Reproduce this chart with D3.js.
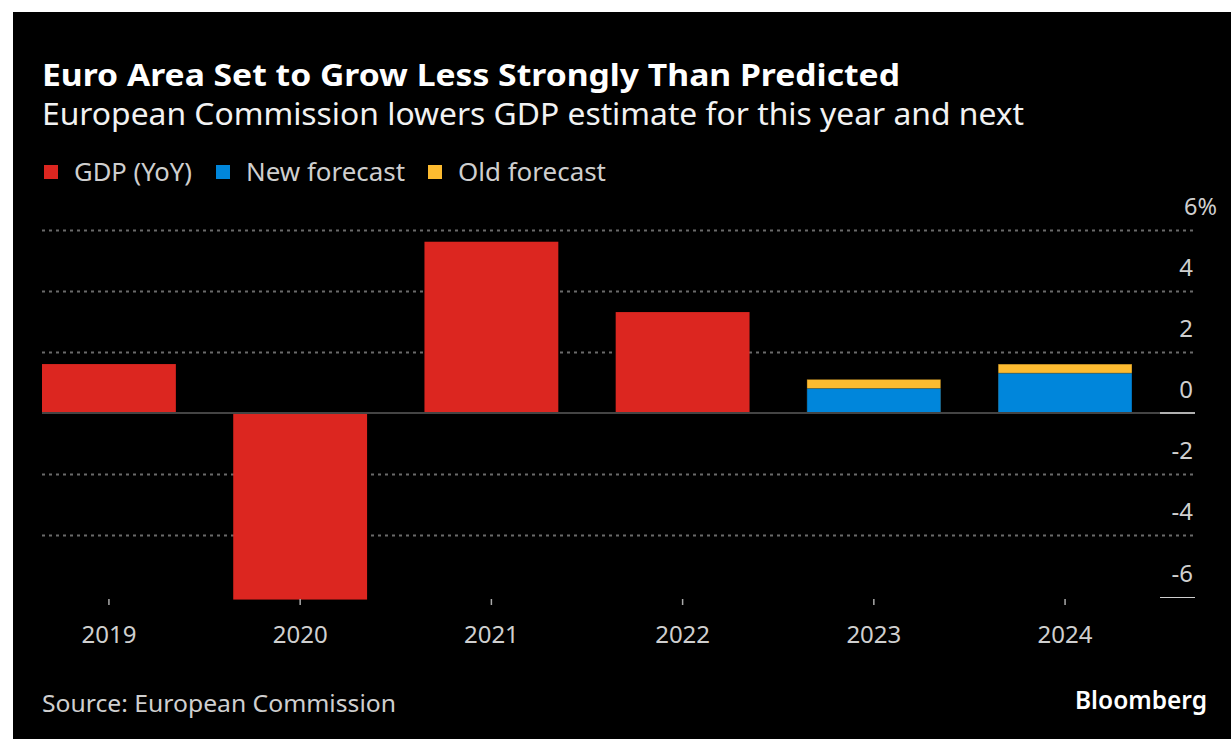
<!DOCTYPE html>
<html>
<head>
<meta charset="utf-8">
<script src="https://cdn.jsdelivr.net/npm/d3@7"></script>
<style>
  html, body { margin: 0; padding: 0; background: #fff; }
  svg { display: block; }
  text { font-family: "Noto Sans", sans-serif; }
</style>
</head>
<body>
<svg id="chart" width="1231" height="739"></svg>
<script>
// Euro area real GDP growth, % year on year
const years = ["2019", "2020", "2021", "2022", "2023", "2024"];
const gdpActual = [1.6, -6.1, 5.6, 3.3, null, null];
const newForecast = [null, null, null, null, 0.8, 1.3];
const oldForecast = [null, null, null, null, 1.1, 1.6];
const yTicks = [6, 4, 2, 0, -2, -4, -6];

const legendItems = [
  { label: "GDP (YoY)", color: "#dc2620" },
  { label: "New forecast", color: "#0086db" },
  { label: "Old forecast", color: "#fdbb30" }
];

const svg = d3.select("#chart");

// dark panel
svg.append("rect")
  .attr("x", 13).attr("y", 12)
  .attr("width", 1218).attr("height", 727)
  .attr("fill", "#000");

// headline and dek
svg.append("text")
  .attr("x", 42).attr("y", 86)
  .attr("fill", "#fff")
  .attr("font-size", 31).attr("font-weight", 700)
  .attr("textLength", 858).attr("lengthAdjust", "spacingAndGlyphs")
  .text("Euro Area Set to Grow Less Strongly Than Predicted");

svg.append("text")
  .attr("x", 42).attr("y", 125)
  .attr("fill", "#f2f2f2")
  .attr("font-size", 31)
  .attr("textLength", 982).attr("lengthAdjust", "spacingAndGlyphs")
  .text("European Commission lowers GDP estimate for this year and next");

// legend
const legendX = [44, 216, 428];
const legendW = [118, 159, 148];
const legend = svg.append("g");
legendItems.forEach((d, i) => {
  legend.append("rect")
    .attr("x", legendX[i]).attr("y", 165)
    .attr("width", 14).attr("height", 14)
    .attr("fill", d.color);
  legend.append("text")
    .attr("x", legendX[i] + 30).attr("y", 181)
    .attr("fill", "#cfcfcf")
    .attr("font-size", 25)
    .attr("textLength", legendW[i]).attr("lengthAdjust", "spacingAndGlyphs")
    .text(d.label);
});

// scales
const x = d3.scaleBand()
  .domain(years)
  .range([42, 1132])
  .paddingInner(0.3)
  .paddingOuter(0);

const y = d3.scaleLinear()
  .domain([-6, 6])
  .range([596.5, 229.5]);

const gridLeft = 42, gridRight = 1195, tickLeft = 1160;

// dotted gridlines
svg.append("g")
  .selectAll("line")
  .data(yTicks.filter(t => t !== 0 && t !== -6))
  .join("line")
  .attr("x1", gridLeft).attr("x2", gridRight)
  .attr("y1", d => Math.round(y(d)) + 0.5)
  .attr("y2", d => Math.round(y(d)) + 0.5)
  .attr("stroke", "#6a6a6a")
  .attr("stroke-width", 2)
  .attr("stroke-dasharray", "3,4");

// y axis labels on the right
const yLab = svg.append("g");
yTicks.forEach(t => {
  const lbl = yLab.append("text")
    .attr("x", gridRight - 2)
    .attr("y", y(t) - 15)
    .attr("fill", "#cfcfcf")
    .attr("font-size", 24)
    .attr("text-anchor", "end")
    .text(String(t));
  if (t === 6) {
    lbl.attr("text-anchor", "start").attr("x", gridRight - 11)
      .attr("textLength", 33).attr("lengthAdjust", "spacingAndGlyphs")
      .text("6%");
  }
});

// bars: actual GDP
const bars = svg.append("g");
bars.selectAll("rect.actual")
  .data(years.map((yr, i) => ({ yr, v: gdpActual[i] })).filter(d => d.v !== null))
  .join("rect")
  .attr("class", "actual")
  .attr("x", d => x(d.yr))
  .attr("width", x.bandwidth())
  .attr("y", d => y(Math.max(0, d.v)))
  .attr("height", d => Math.abs(y(d.v) - y(0)))
  .attr("fill", "#dc2620");

// old forecast behind, new forecast in front
const fc = years.map((yr, i) => ({ yr, oldV: oldForecast[i], newV: newForecast[i] }))
  .filter(d => d.newV !== null);

bars.selectAll("rect.old")
  .data(fc)
  .join("rect")
  .attr("class", "old")
  .attr("x", d => x(d.yr))
  .attr("width", x.bandwidth())
  .attr("y", d => y(d.oldV))
  .attr("height", d => y(0) - y(d.oldV))
  .attr("fill", "#fdbb30")
  .attr("stroke", "rgba(0,0,0,0.35)")
  .attr("stroke-width", 1);

bars.selectAll("rect.new")
  .data(fc)
  .join("rect")
  .attr("class", "new")
  .attr("x", d => x(d.yr))
  .attr("width", x.bandwidth())
  .attr("y", d => y(d.newV))
  .attr("height", d => y(0) - y(d.newV))
  .attr("fill", "#0086db")
  .attr("stroke", "rgba(0,0,0,0.35)")
  .attr("stroke-width", 1);

// zero line
svg.append("line")
  .attr("x1", gridLeft).attr("x2", tickLeft)
  .attr("y1", y(0)).attr("y2", y(0))
  .attr("stroke", "#444").attr("stroke-width", 2);
svg.append("line")
  .attr("x1", tickLeft).attr("x2", gridRight)
  .attr("y1", y(0)).attr("y2", y(0))
  .attr("stroke", "#b0b0b0").attr("stroke-width", 2);
// baseline tick at -6
svg.append("line")
  .attr("x1", tickLeft).attr("x2", gridRight)
  .attr("y1", Math.round(y(-6)) + 0.5).attr("y2", Math.round(y(-6)) + 0.5)
  .attr("stroke", "#cfcfcf").attr("stroke-width", 1);

// x axis
const xAxis = svg.append("g")
  .attr("transform", `translate(0,${Math.round(y(-6))})`)
  .call(d3.axisBottom(x).tickSize(8).tickPadding(21));
xAxis.select(".domain").remove();
xAxis.selectAll(".tick line")
  .attr("y1", 2)
  .attr("stroke", "#aaa").attr("stroke-width", 1.5);
xAxis.selectAll(".tick text")
  .attr("fill", "#cfcfcf")
  .attr("font-size", 24)
  .attr("font-family", "\"Noto Sans\", sans-serif");

// footer
svg.append("text")
  .attr("x", 42).attr("y", 712)
  .attr("fill", "#cfcfcf")
  .attr("font-size", 23)
  .attr("textLength", 354).attr("lengthAdjust", "spacingAndGlyphs")
  .text("Source: European Commission");

svg.append("text")
  .attr("x", 1207).attr("y", 709)
  .attr("text-anchor", "end")
  .attr("fill", "#fff")
  .attr("font-size", 25)
  .attr("font-weight", 600)
  .attr("font-family", "Inter, sans-serif")
  .attr("textLength", 132).attr("lengthAdjust", "spacingAndGlyphs")
  .text("Bloomberg");
</script>
</body>
</html>
